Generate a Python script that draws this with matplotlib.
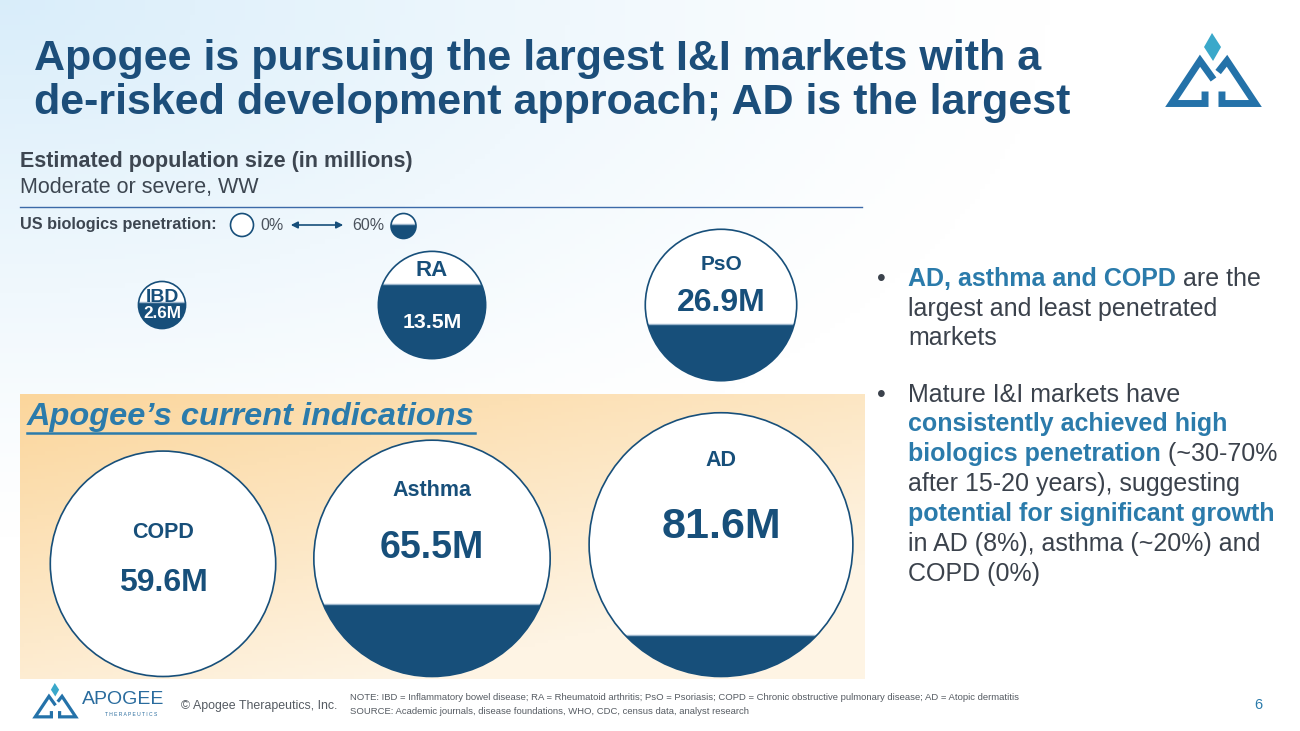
import matplotlib
matplotlib.use("Agg")
import matplotlib.pyplot as plt
from matplotlib.patches import Circle, Rectangle
import numpy as np

plt.rcParams['font.family'] = ['Liberation Sans', 'DejaVu Sans']

# data
indications = ['IBD', 'RA', 'PsO', 'COPD', 'Asthma', 'AD']
population_m = [2.6, 13.5, 26.9, 59.6, 65.5, 81.6]      # millions, moderate/severe WW
penetration = [0.58, 0.74, 0.34, 0.0, 0.26, 0.10]       # share of bubble filled (US biologics)

# layout of the bubbles (pixel space)
cx = [162, 432, 721, 163, 432, 721]
row_top_cy = 305
row_bottom = 676.5
label_y = [297, 271, 265, 532, 490, 461]
value_y = [313, 322, 303, 583, 548, 527]
label_fs = [14, 16, 15, 15.5, 15.5, 15.5]
value_fs = [12.3, 15.3, 23, 23, 27, 31]
px_per_sqrt_m = 29.2   # bubble diameter per sqrt(million)

title_lines = ['Apogee is pursuing the largest I&I markets with a',
               'de-risked development approach; AD is the largest']

DARK = '#174f7a'
TITLE = '#1c4e7a'
HL = '#2b7bab'
GREY = '#3b424c'
LOGO = '#2472a9'
LOGO2 = '#3aa8ca'

fig = plt.figure(figsize=(13, 7.31), dpi=100)
ax = fig.add_axes([0, 0, 1, 1])
ax.set_xlim(0, 1300)
ax.set_ylim(731, 0)
ax.axis('off')
renderer = fig.canvas.get_renderer()

# light blue wash in the top-left corner
gx, gy = np.meshgrid(np.linspace(0, 1300, 260), np.linspace(0, 731, 147))
a = np.clip(1 - np.sqrt((gx / 1050) ** 2 + (gy / 540) ** 2), 0, 1) ** 1.2
blue = np.array([0.85, 0.93, 0.98])
bg = 1 - a[..., None] * (1 - blue)
ax.imshow(bg, extent=(0, 1300, 731, 0), aspect='auto', zorder=0)

# orange box behind current indications
bx, by = np.meshgrid(np.linspace(0, 1, 200), np.linspace(0, 1, 80))
t = np.clip(0.55 * bx + 0.75 * by, 0, 1)[..., None]
c0 = np.array([251, 214, 156]) / 255
c1 = np.array([254, 244, 228]) / 255
ax.imshow(c0 * (1 - t) + c1 * t, extent=(20, 865, 679, 394), aspect='auto', zorder=1)

# title
ax.text(34, 70, title_lines[0], fontsize=31, fontweight='bold', color=TITLE, va='baseline', zorder=5)
ax.text(34, 114, title_lines[1], fontsize=31, fontweight='bold', color=TITLE, va='baseline', zorder=5)

# logo mark
def draw_logo(x0, y0, w, h, lw):
    X = lambda u: x0 + u * w
    Y = lambda v: y0 + v * h
    left = [(0.409, 0.78), (0.409, 0.94), (0.05, 0.94), (0.355, 0.37), (0.50, 0.62)]
    right = [(0.591, 0.78), (0.591, 0.94), (0.95, 0.94), (0.645, 0.37), (0.55, 0.52)]
    for pts in (left, right):
        ax.plot([X(p[0]) for p in pts], [Y(p[1]) for p in pts], color=LOGO, lw=lw,
                solid_joinstyle='miter', solid_capstyle='butt', zorder=5)
    dia = [(0.484, 0.0), (0.581, 0.187), (0.495, 0.373), (0.398, 0.187)]
    ax.fill([X(p[0]) for p in dia], [Y(p[1]) for p in dia], color=LOGO2, lw=0, zorder=5)

draw_logo(1167, 33, 93, 75, 5)

# chart header
ax.text(20, 167, 'Estimated population size (in millions)', fontsize=15.5, fontweight='bold',
        color='#3d4651', va='baseline')
ax.text(20, 193, 'Moderate or severe, WW', fontsize=15.5, color='#3d4651', va='baseline')
ax.plot([20, 862], [207, 207], color='#3c6aa8', lw=1)
ax.text(20, 225, 'US biologics penetration:', fontsize=11.7, fontweight='bold', color='#3d4651', va='center')


def fill_height(r, frac):
    hs = np.linspace(0, 2 * r, 4001)
    seg = r ** 2 * np.arccos((r - hs) / r) - (r - hs) * np.sqrt(np.clip(2 * r * hs - hs ** 2, 0, None))
    return np.interp(frac * np.pi * r ** 2, seg, hs)


def bubble(x, y, r, frac, lw=1.2, z=3):
    c = Circle((x, y), r, facecolor='white', edgecolor='none', zorder=z)
    ax.add_patch(c)
    top = y + r
    if frac > 0:
        hgt = fill_height(r, frac)
        top = y + r - hgt
        rect = Rectangle((x - r - 2, top), 2 * r + 4, hgt + 2, facecolor=DARK, edgecolor='none', zorder=z + 0.1)
        ax.add_patch(rect)
        rect.set_clip_path(c)
        ln, = ax.plot([x - r, x + r], [top, top], color='#9db6cc', lw=1, zorder=z + 0.2)
        ln.set_clip_path(c)
    ax.add_patch(Circle((x, y), r, fill=False, edgecolor=DARK, lw=lw, zorder=z + 0.3))
    return top

# legend
bubble(242, 225, 11.5, 0.0, lw=1.2, z=6)
ax.text(260, 225, '0%', fontsize=11.5, color='#4a525c', va='center')
ax.annotate('', xy=(346, 225), xytext=(288, 225),
            arrowprops=dict(arrowstyle='<|-|>', color=DARK, lw=1.2, mutation_scale=10), zorder=6)
ax.text(352, 225, '60%', fontsize=11.5, color='#4a525c', va='center')
bubble(403.5, 226, 12.5, 0.60, lw=1.2, z=6)

# section label
sec = ax.text(27, 417, 'Apogee\u2019s current indications', fontsize=23.4, fontweight='bold',
              style='italic', color=HL, va='center', zorder=5)
sb = sec.get_window_extent(renderer)
ax.plot([27, 27 + sb.width], [433, 433], color=HL, lw=1.8, zorder=5)

# bubbles
for i, name in enumerate(indications):
    r = px_per_sqrt_m * np.sqrt(population_m[i]) / 2
    cy = row_top_cy if i < 3 else row_bottom - r
    top = bubble(cx[i], cy, r, penetration[i])
    col = 'white' if label_y[i] > top else DARK
    ax.text(cx[i], label_y[i], name, fontsize=label_fs[i], fontweight='bold', color=col,
            ha='center', va='center', zorder=8)
    col = 'white' if value_y[i] > top else DARK
    ax.text(cx[i], value_y[i], f'{population_m[i]}M', fontsize=value_fs[i], fontweight='bold',
            color=col, ha='center', va='center', zorder=8)

# bullets on the right
bullet_lines = [
    (286, [('AD, asthma and COPD', True), (' are the', False)]),
    (316, [('largest and least penetrated', False)]),
    (345, [('markets', False)]),
    (402, [('Mature I&I markets have', False)]),
    (431, [('consistently achieved high', True)]),
    (461, [('biologics penetration', True), (' (~30-70%', False)]),
    (491, [('after 15-20 years), suggesting', False)]),
    (521, [('potential for significant growth', True)]),
    (551, [('in AD (8%), asthma (~20%) and', False)]),
    (581, [('COPD (0%)', False)]),
]
for yb in (286, 402):
    ax.text(877, yb, '\u2022', fontsize=18, color=GREY, va='baseline')
for yb, runs in bullet_lines:
    x = 908
    for txt, bold in runs:
        tt = ax.text(x, yb, txt, fontsize=18, fontweight='bold' if bold else 'normal',
                     color=HL if bold else GREY, va='baseline')
        x += tt.get_window_extent(renderer).width

# footer
draw_logo(33, 683, 45, 36, 2.3)
ax.text(82, 700, 'APOGEE', fontsize=14, color='#2a6c9e', va='center')
ax.text(105, 714, 'T H E R A P E U T I C S', fontsize=3.6, color='#2a6c9e', va='center')
ax.text(181, 706, '\u00a9 Apogee Therapeutics, Inc.', fontsize=8.9, color='#555b62', va='center')
ax.text(350, 698, 'NOTE: IBD = Inflammatory bowel disease; RA = Rheumatoid arthritis; PsO = Psoriasis; '
        'COPD = Chronic obstructive pulmonary disease; AD = Atopic dermatitis',
        fontsize=6.8, color='#555b62', va='center')
ax.text(350, 711, 'SOURCE: Academic journals, disease foundations, WHO, CDC, census data, analyst research',
        fontsize=6.8, color='#555b62', va='center')
ax.text(1254, 705, '6', fontsize=10.5, color=HL, va='center')

fig.savefig('out.png', dpi=100)
